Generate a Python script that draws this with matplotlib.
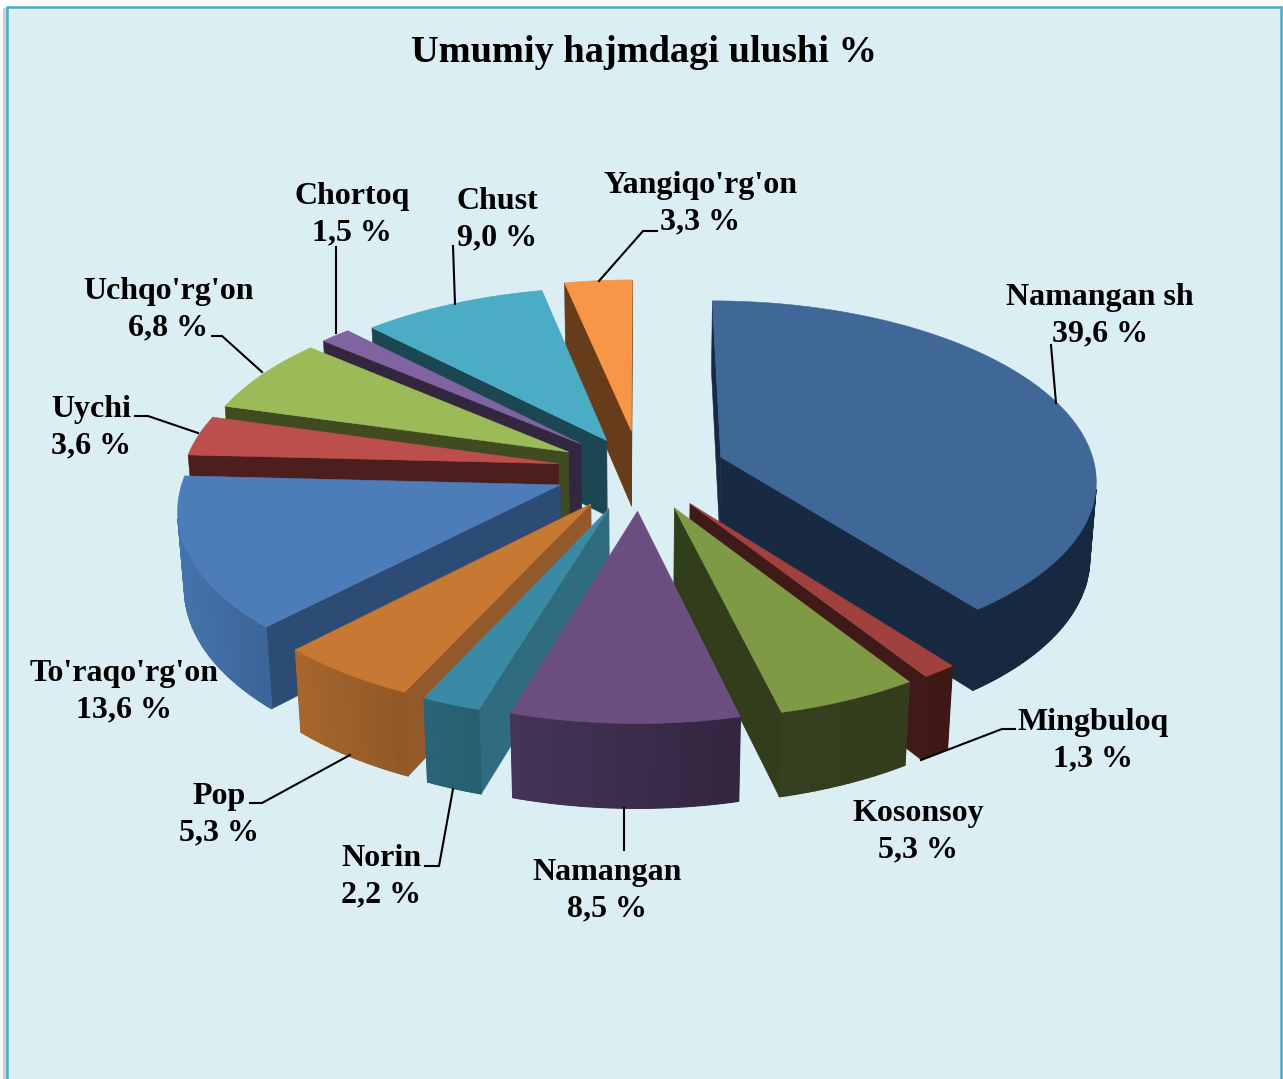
from math import sin, cos, radians, pi
import numpy as np
import matplotlib
matplotlib.use('Agg')
from matplotlib import pyplot as plt
from matplotlib.colors import to_rgb
from matplotlib.patches import Polygon, Rectangle

##data
names = ['Namangan sh', 'Mingbuloq', 'Kosonsoy', 'Namangan', 'Norin', 'Pop',
         "To'raqo'rg'on", 'Uychi', "Uchqo'rg'on", 'Chortoq', 'Chust', "Yangiqo'rg'on"]
shares = [39.6, 1.3, 5.3, 8.5, 2.2, 5.3, 13.6, 3.6, 6.8, 1.5, 9.0, 3.3]

##slice colours: top, radial wall, arc wall (left, right)
top_col = ['#3F6797', '#A0413E', '#7E9A45', '#6A4F80', '#3A8AA5', '#C77833',
           '#4D7DB8', '#BC4F4C', '#9BBB59', '#8064A2', '#4BACC6', '#F79646']
wall_col = ['#172A42', '#3F1A18', '#323D1B', '#44335A', '#2F6C80', '#93592A',
            '#2D4C75', '#4C1F1E', '#404B21', '#33263F', '#1D4653', '#663C1B']
arc_left = ['#182B42', '#421A18', '#35401E', '#463459', '#2A6577', '#A8672D',
            '#4474AC', '#4C1F1E', '#404B21', '#33263F', '#1D4653', '#663C1B']
arc_right = ['#172940', '#3E1816', '#333D1C', '#33263F', '#275F70', '#915826',
             '#3C6598', '#4C1F1E', '#404B21', '#33263F', '#1D4653', '#663C1B']
explode = [86, 85, 85, 85, 85, 85, 85, 83, 82, 82, 72, 85]

##label centres and leader lines, in pixels of the 1283x1079 picture
label_pos = [(1100, 315), (1093, 740), (918, 831), (607, 890), (381, 876), (219, 814),
             (124, 691), (91, 427), (168, 309), (352, 214), (497, 219), (700, 203)]
leaders = [[(1056, 403), (1051, 345)],
           [(921, 760), (1002, 729), (1015, 729)],
           None,
           [(624, 808), (624, 850)],
           [(453, 789), (439, 866), (425, 866)],
           [(350, 755), (262, 803), (250, 803)],
           None,
           [(198, 433), (148, 416), (135, 416)],
           [(262, 372), (222, 336), (212, 336)],
           [(336, 333), (336, 247)],
           [(455, 304), (453, 246)],
           [(599, 281), (643, 231), (657, 231)]]

cx, cy = 640, 470
R = 375      # pie radius
H = 88       # thickness
elev = radians(28.2)
D = 2840     # camera distance


def project(X, Y, Z):
    """perspective projection of a point of the pie, returns pixels"""
    w = D + Y * cos(elev) - Z * sin(elev)
    v = Y * sin(elev) + Z * cos(elev)
    return cx + D * X / w, cy - D * v / w


def area(pts):
    s = 0
    for i in range(len(pts)):
        x0, y0 = pts[i]
        x1, y1 = pts[(i + 1) % len(pts)]
        s += x0 * y1 - x1 * y0
    return s / 2


def mix(c0, c1, t):
    a = np.array(to_rgb(c0))
    b = np.array(to_rgb(c1))
    return tuple(a + (b - a) * t)


def poly(ax, pts, col):
    ax.add_patch(Polygon(pts, closed=True, facecolor=col, edgecolor=col, linewidth=0.4))


def draw_slice(ax, i, a0, a1):
    mid = (a0 + a1) / 2
    ox = explode[i] * sin(mid)
    oy = explode[i] * cos(mid)
    n = max(int((a1 - a0) / radians(1)), 3)
    angles = np.linspace(a0, a1, n + 1)
    rim = [(ox + R * sin(t), oy + R * cos(t)) for t in angles]

    top = [project(ox, oy, 0)] + [project(x, y, 0) for x, y in rim]
    sign = 1 if area(top) > 0 else -1

    # radial walls, only when they look at the camera
    for p, q in ((rim[0], (ox, oy)), ((ox, oy), rim[-1])):
        face = [project(p[0], p[1], 0), project(q[0], q[1], 0),
                project(q[0], q[1], -H), project(p[0], p[1], -H)]
        if area(face) * sign > 0:
            poly(ax, face, wall_col[i])

    # outer wall, cut in small pieces for the shading
    xs = [project(x, y, 0)[0] for x, y in rim]
    visible = []
    for k in range(n):
        face = [project(*rim[k], 0), project(*rim[k + 1], 0),
                project(*rim[k + 1], -H), project(*rim[k], -H)]
        if area(face) * sign < 0:
            t = (xs[k] - min(xs)) / max(max(xs) - min(xs), 1)
            visible.append((face, mix(arc_left[i], arc_right[i], t)))
    # underlay so that the joints between the pieces do not show
    for j in range(len(visible)):
        poly(ax, visible[j][0], mix(arc_left[i], arc_right[i], 0.5))
    for face, col in visible:
        ax.add_patch(Polygon(face, closed=True, facecolor=col, edgecolor=col, linewidth=1.0))

    poly(ax, top, top_col[i])


fig = plt.figure(figsize=(12.83, 10.79), dpi=100)
ax = fig.add_axes([0, 0, 1, 1])
ax.set_xlim(0, 1283)
ax.set_ylim(1079, 0)
ax.axis('off')

# chart area
ax.add_patch(Rectangle((3, 8), 4, 1075, facecolor='#C9CDD0', edgecolor='none'))
ax.add_patch(Rectangle((6.5, 6.5), 1274.5, 1080, facecolor='#DBEEF4', edgecolor='#4BACC6', linewidth=1.8))

# slices from the back to the front
limits = np.cumsum([0] + shares) / sum(shares) * 2 * pi
order = sorted(range(len(shares)), key=lambda i: -cos((limits[i] + limits[i + 1]) / 2))
for i in order:
    draw_slice(ax, i, limits[i], limits[i + 1])

font = dict(family='Liberation Serif', fontweight='bold', color='black')
ax.text(644, 53, 'Umumiy hajmdagi ulushi %', fontsize=27.6, ha='center', va='center', **font)

for i in range(len(names)):
    txt = names[i] + '\n' + '{:.1f} %'.format(shares[i]).replace('.', ',')
    ax.text(label_pos[i][0], label_pos[i][1] + 0.5, txt, fontsize=23, ha='center', va='center',
            linespacing=1.31, **font)
    if leaders[i] is not None:
        ax.plot([p[0] for p in leaders[i]], [p[1] for p in leaders[i]], color='black', linewidth=1.5)

fig.savefig('out.png', dpi=100)
